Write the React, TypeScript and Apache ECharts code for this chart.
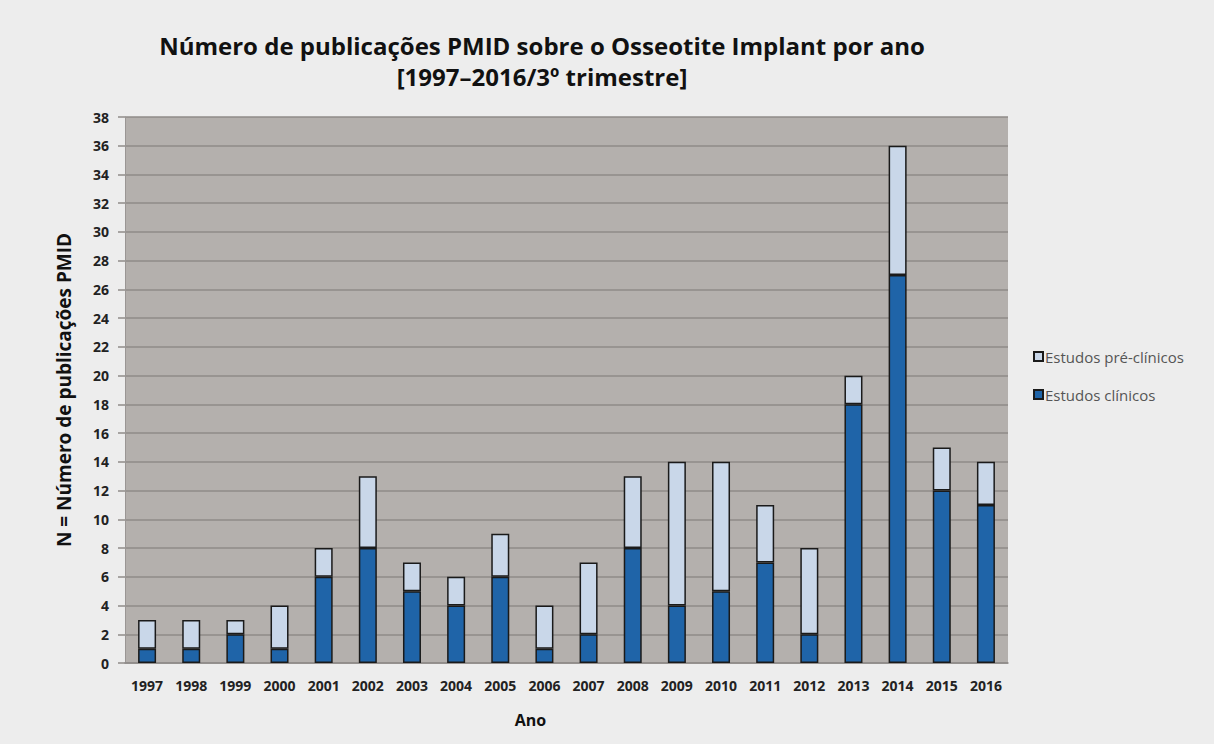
import React, { useEffect, useRef } from "react";
import * as echarts from "echarts";

const years = ["1997","1998","1999","2000","2001","2002","2003","2004","2005","2006","2007","2008","2009","2010","2011","2012","2013","2014","2015","2016"];
const clinicos = [1,1,2,1,6,8,5,4,6,1,2,8,4,5,7,2,18,27,12,11];
const preClinicos = [2,2,1,3,2,5,2,2,3,3,5,5,10,9,4,6,2,9,3,3];
const yTicks = { min: 0, max: 38, interval: 2 };

const FONT = "'Open Sans', 'Noto Sans', sans-serif";

export default function App() {
  const ref = useRef<HTMLDivElement>(null);
  useEffect(() => {
    const chart = echarts.init(ref.current!, null, { renderer: "svg" });
    chart.setOption({
      animation: false,
      backgroundColor: "#ededed",
      textStyle: { fontFamily: FONT },
      title: {
        text: "Número de publicações PMID sobre o Osseotite Implant por ano\n[1997–2016/3º trimestre]",
        left: 537,
        top: 25,
        textAlign: "center",
        textStyle: { fontFamily: FONT, fontWeight: "bold", fontSize: 24, lineHeight: 31, color: "#111" },
      },
      legend: {
        orient: "vertical",
        left: 1028,
        top: 344,
        itemWidth: 9,
        itemHeight: 9,
        itemGap: 23,
        icon: "rect",
        data: ["Estudos pré-clínicos", "Estudos clínicos"],
        textStyle: { fontFamily: FONT, fontSize: 15, color: "#555", padding: [0, 0, 0, -3] },
      },
      grid: { left: 125, right: 206, top: 117, bottom: 81, show: true, backgroundColor: "#b4b0ad", borderWidth: 0 },
      xAxis: {
        type: "category",
        data: years,
        name: "Ano",
        nameLocation: "middle",
        nameGap: 49,
        nameTextStyle: { fontFamily: FONT, fontWeight: "bold", fontSize: 16, color: "#111", padding: [0, 72, 0, 0] },
        axisLine: { show: true, lineStyle: { color: "#8f8b89", width: 1.5 } },
        axisTick: { show: false },
        axisLabel: { fontFamily: FONT, fontWeight: "bold", fontSize: 14, color: "#222", margin: 15 },
      },
      yAxis: {
        type: "value",
        min: yTicks.min,
        max: yTicks.max,
        interval: yTicks.interval,
        name: "N = Número de publicações PMID",
        nameLocation: "middle",
        nameGap: 52,
        nameTextStyle: { fontFamily: FONT, fontWeight: "bold", fontSize: 19, color: "#111" },
        axisLine: { show: true, lineStyle: { color: "#9a9694", width: 1 } },
        axisTick: { show: true, length: 7, lineStyle: { color: "#8f8b89", width: 1.5 } },
        axisLabel: { fontFamily: FONT, fontWeight: "bold", fontSize: 14, color: "#222", margin: 16 },
        splitLine: { show: true, lineStyle: { color: "#8f8b89", width: 1.5 } },
      },
      series: [
        {
          name: "Estudos clínicos",
          type: "bar",
          stack: "total",
          data: clinicos,
          barWidth: 18,
          itemStyle: { color: "#1f64a8", borderColor: "#1a1a1a", borderWidth: 1.5 },
        },
        {
          name: "Estudos pré-clínicos",
          type: "bar",
          stack: "total",
          data: preClinicos,
          barWidth: 18,
          itemStyle: { color: "#c9d7e9", borderColor: "#1a1a1a", borderWidth: 1.5 },
        },
      ],
    });
    return () => chart.dispose();
  }, []);
  return <div ref={ref} style={{ position: "fixed", left: 0, top: 0, width: 1214, height: 744 }} />;
}
